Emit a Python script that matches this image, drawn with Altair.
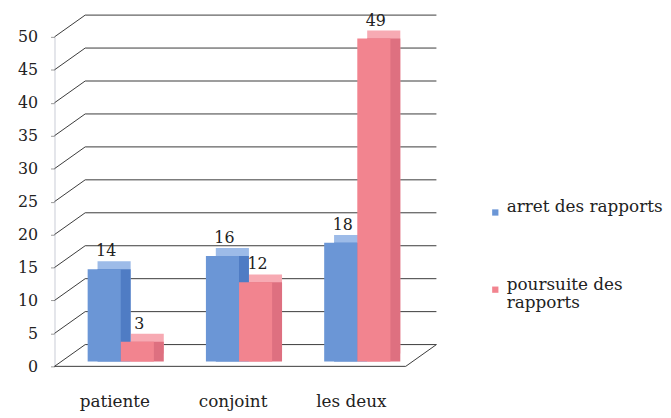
import altair as alt
import pandas as pd

categories = ["patiente", "conjoint", "les deux"]
series = ["arret des rapports", "poursuite des rapports"]
arret = [14, 16, 18]
poursuite = [3, 12, 49]
y_ticks = [0, 5, 10, 15, 20, 25, 30, 35, 40, 45, 50]

rows = []
for c, a, p in zip(categories, arret, poursuite):
    rows.append({"cat": c, "serie": series[0], "value": a})
    rows.append({"cat": c, "serie": series[1], "value": p})
df = pd.DataFrame(rows)
grid_df = pd.DataFrame({"v": y_ticks})
floor_df = pd.DataFrame({"v": [0]})

W, H = 355, 333
DX, DY = 31, -22          # back wall depth
BX, BY = 10, -8           # bar depth
SHIFT_X, SHIFT_Y = 9, -5  # bars sit slightly behind the front plane
FONT = "DejaVu Serif"
LINE = "#3a3a3a"

front_colors = ["#6b96d6", "#f2848f"]
top_colors = ["#9dbbe8", "#f7aab3"]
side_colors = ["#4f7cc4", "#de7080"]


def x_enc(shift, show_axis):
    axis = None
    if show_axis:
        axis = alt.Axis(title=None, labelAngle=0, labelPadding=28, ticks=False,
                        domain=False, labelFont=FONT, labelFontSize=17,
                        labelColor="#222", labelOffset=-6)
    return alt.X(
        "cat:N", sort=categories,
        scale=alt.Scale(paddingInner=0.44, paddingOuter=0.205,
                        range=[shift, W + shift]),
        axis=axis,
    )


xo_enc = alt.XOffset("serie:N", sort=series)
y_scale = alt.Scale(domain=[0, 50], nice=False)
y_axis = alt.Axis(title=None, values=y_ticks, grid=False, tickSize=4,
                  tickColor="#999", domainColor="#c8cbd6", labelPadding=13,
                  labelOverlap=False, labelFlush=False,
                  labelFont=FONT, labelFontSize=16, labelColor="#222")
y_enc = alt.Y("value:Q", scale=y_scale, axis=y_axis)
y_grid = alt.Y("v:Q", scale=y_scale, axis=y_axis)

base = alt.Chart(df)

back_grid = alt.Chart(grid_df).mark_rule(
    color=LINE, strokeWidth=1, xOffset=DX, x2Offset=DX, yOffset=DY
).encode(y=y_grid, x=alt.value(0), x2=alt.value("width"))

diag = alt.Chart(grid_df).mark_rule(
    color=LINE, strokeWidth=1, y2Offset=DY
).encode(y=y_grid, y2=alt.Y2("v"), x=alt.value(0), x2=alt.value(DX))

floor_front = alt.Chart(floor_df).mark_rule(
    color=LINE, strokeWidth=1
).encode(y=y_grid, x=alt.value(0), x2=alt.value("width"))

floor_right = alt.Chart(floor_df).mark_rule(
    color=LINE, strokeWidth=1, x2Offset=DX, y2Offset=DY
).encode(y=y_grid, y2=alt.Y2("v"), x=alt.value("width"), x2=alt.value("width"))

top_layer = base.mark_bar(
    yOffset=SHIFT_Y + BY, y2Offset=SHIFT_Y + BY
).encode(
    x=x_enc(SHIFT_X + BX, False), xOffset=xo_enc, y=y_enc,
    color=alt.condition(alt.datum.serie == series[0],
                        alt.value(top_colors[0]), alt.value(top_colors[1])),
)

side_layer = base.mark_bar(
    yOffset=SHIFT_Y, y2Offset=SHIFT_Y + BY
).encode(
    x=x_enc(SHIFT_X + BX, False), xOffset=xo_enc, y=y_enc,
    color=alt.condition(alt.datum.serie == series[0],
                        alt.value(side_colors[0]), alt.value(side_colors[1])),
)

front_layer = base.mark_bar(
    yOffset=SHIFT_Y, y2Offset=SHIFT_Y
).encode(
    x=x_enc(SHIFT_X, True), xOffset=xo_enc, y=y_enc,
    color=alt.Color(
        "serie:N", sort=series,
        scale=alt.Scale(domain=series, range=front_colors),
        legend=alt.Legend(
            title=None, orient="none", legendX=437, legendY=169,
            symbolType="square", symbolSize=40, symbolStrokeWidth=0,
            labelFont=FONT, labelFontSize=17, labelColor="#222",
            labelOffset=3,
            labelBaseline="alphabetic", rowPadding=60, labelLimit=300,
            labelExpr="datum.label == 'poursuite des rapports' ? ['poursuite des', 'rapports'] : datum.label",
        ),
    ),
)

labels = base.mark_text(
    font=FONT, fontSize=16, color="#222", baseline="alphabetic",
    dx=2, yOffset=SHIFT_Y, dy=-13,
).encode(x=x_enc(SHIFT_X, False), xOffset=xo_enc, y=y_enc,
         text=alt.Text("value:Q"))

chart = alt.layer(
    back_grid, diag, floor_front, floor_right,
    top_layer, side_layer, front_layer, labels
).resolve_scale(
    x="independent"
).properties(
    width=W, height=H,
    autosize=alt.AutoSizeParams(type="none"),
    padding={"left": 47, "top": 27, "right": 260, "bottom": 48},
    background="white",
).configure_view(stroke=None)

chart.save("out.html", embed_options={"renderer": "svg", "actions": False})
